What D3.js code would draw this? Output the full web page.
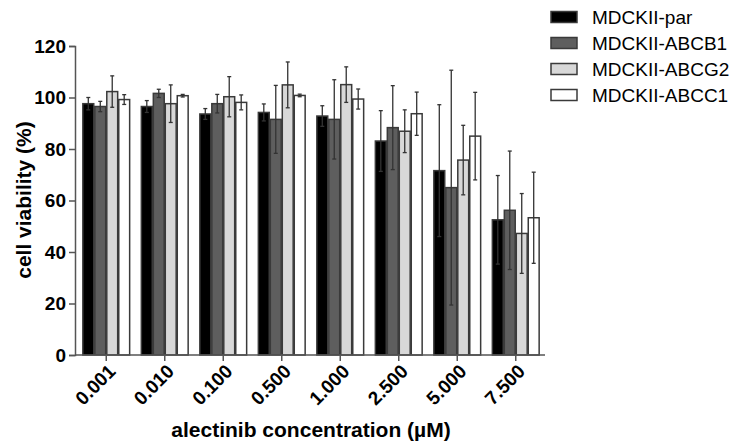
<!DOCTYPE html>
<html>
<head>
<meta charset="utf-8">
<script src="https://cdn.jsdelivr.net/npm/d3@7"></script>
<style>
html,body{margin:0;padding:0;background:#fff;}
svg{display:block;}
text{font-family:"Liberation Sans",Arial,sans-serif;}
</style>
</head>
<body>
<svg id="chart" width="731" height="448"></svg>
<script>
const categories = ["0.001","0.010","0.100","0.500","1.000","2.500","5.000","7.500"];
const seriesNames = ["MDCKII-par","MDCKII-ABCB1","MDCKII-ABCG2","MDCKII-ABCC1"];
const parMean   = [97.6, 96.5, 93.6, 94.2, 92.8, 83.1, 71.6, 52.5];
const parErr    = [2.4, 2.3, 2.1, 3.3, 4.0, 11.8, 25.6, 17.2];
const abcb1Mean = [96.5, 101.6, 97.6, 91.5, 91.5, 88.3, 65.0, 56.2];
const abcb1Err  = [2.0, 1.6, 3.6, 13.2, 15.4, 16.3, 45.6, 23.0];
const abcg2Mean = [102.3, 97.6, 100.3, 104.9, 105.0, 86.9, 75.7, 47.2];
const abcg2Err  = [6.1, 7.3, 7.8, 8.9, 6.9, 8.3, 13.5, 15.5];
const abcc1Mean = [99.2, 100.7, 98.1, 100.8, 99.4, 93.7, 85.0, 53.3];
const abcc1Err  = [1.9, 0.5, 2.9, 0.5, 3.9, 8.4, 17.0, 17.7];
const yTicks = [0, 20, 40, 60, 80, 100, 120];
const fills = ["#000000", "#5e5e5e", "#d8d8d8", "#ffffff"];

const means = [parMean, abcb1Mean, abcg2Mean, abcc1Mean];
const errs = [parErr, abcb1Err, abcg2Err, abcc1Err];
const data = [];
categories.forEach((c, i) => {
  seriesNames.forEach((s, j) => {
    data.push({cat: c, series: s, idx: j, mean: means[j][i], err: errs[j][i]});
  });
});

const svg = d3.select("#chart");
const x0 = d3.scaleBand().domain(categories).range([77, 545]).paddingInner(0.2).paddingOuter(0.1);
const x1 = d3.scaleBand().domain(seriesNames).range([0, x0.bandwidth()]).paddingInner(0.09).paddingOuter(0);
const y = d3.scaleLinear().domain([0, 120]).range([355, 46]);

// bars
svg.append("g").selectAll("rect").data(data).join("rect")
  .attr("x", d => x0(d.cat) + x1(d.series))
  .attr("y", d => y(d.mean))
  .attr("width", x1.bandwidth())
  .attr("height", d => y(0) - y(d.mean))
  .attr("fill", d => fills[d.idx])
  .attr("stroke", "#3a3a3a")
  .attr("stroke-width", 1.5);

// error bars
const eg = svg.append("g").attr("stroke", "#333").attr("stroke-width", 1.3);
data.forEach(d => {
  const cx = x0(d.cat) + x1(d.series) + x1.bandwidth() / 2;
  eg.append("line").attr("x1", cx).attr("x2", cx).attr("y1", y(d.mean + d.err)).attr("y2", y(d.mean - d.err));
  [d.mean + d.err, d.mean - d.err].forEach(v => {
    eg.append("line").attr("x1", cx - 2).attr("x2", cx + 2).attr("y1", y(v)).attr("y2", y(v));
  });
});

// y axis
const yAxis = svg.append("g").attr("transform", "translate(75,0)")
  .call(d3.axisLeft(y).tickValues(yTicks).tickSize(6).tickPadding(3));
yAxis.select(".domain").attr("stroke", "#555").attr("stroke-width", 1.5);
yAxis.selectAll(".tick line").attr("stroke", "#555").attr("stroke-width", 1.5);
yAxis.selectAll(".tick text").attr("font-size", 19).attr("font-weight", "bold")
  .attr("fill", "#000").attr("font-family", "Liberation Sans, Arial, sans-serif");

// x axis
const xAxis = svg.append("g").attr("transform", "translate(0,355)")
  .call(d3.axisBottom(x0).tickSize(6).tickSizeOuter(0));
xAxis.select(".domain").attr("stroke", "#555").attr("stroke-width", 1.5).attr("d", "M75,0H545");
xAxis.selectAll(".tick line").attr("stroke", "#555").attr("stroke-width", 1.5);
xAxis.selectAll(".tick text")
  .attr("font-size", 19).attr("font-weight", "bold").attr("fill", "#000")
  .attr("font-family", "Liberation Sans, Arial, sans-serif")
  .attr("text-anchor", "end")
  .attr("dy", null)
  .attr("transform", "translate(7,14) rotate(-45)")
  .attr("x", 0).attr("y", 0).attr("dominant-baseline", "middle");

// axis titles
svg.append("text").attr("x", 311).attr("y", 437).attr("text-anchor", "middle")
  .attr("font-size", 21).attr("font-weight", "bold").text("alectinib concentration (µM)");
svg.append("text").attr("transform", "translate(31,200) rotate(-90)").attr("text-anchor", "middle")
  .attr("font-size", 21).attr("font-weight", "bold").text("cell viability (%)");

// legend
const lg = svg.append("g");
seriesNames.forEach((s, j) => {
  const cy = 17 + j * 26;
  lg.append("rect").attr("x", 551).attr("y", cy - 5.5).attr("width", 26).attr("height", 11)
    .attr("fill", fills[j]).attr("stroke", "#3a3a3a").attr("stroke-width", 1.5);
  lg.append("text").attr("x", 592).attr("y", cy).attr("dy", "0.35em")
    .attr("font-size", 19).attr("fill", "#000").text(s);
});
</script>
</body>
</html>
